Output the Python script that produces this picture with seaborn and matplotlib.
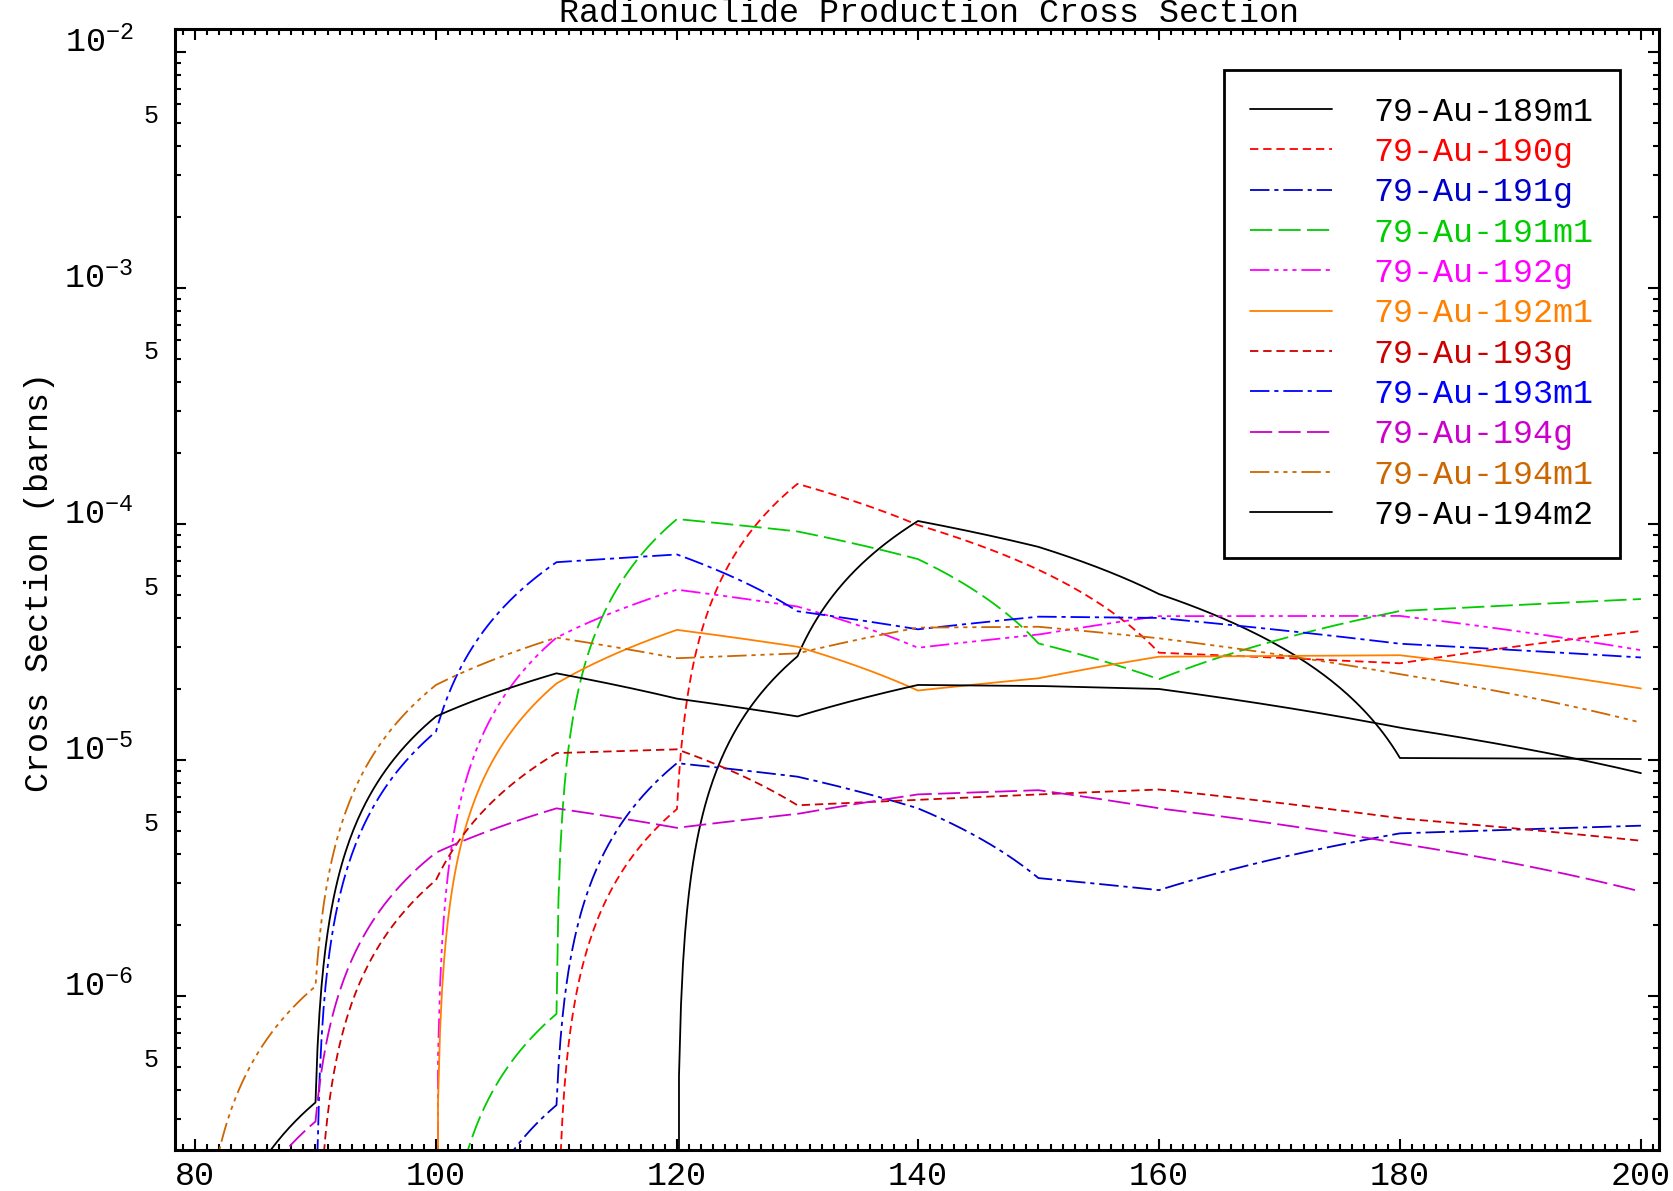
import numpy as np
import pandas as pd
import matplotlib
matplotlib.use("Agg")
import matplotlib.pyplot as plt
import matplotlib.ticker as mticker
import matplotlib.transforms as mtransforms
import seaborn as sns

# proton energy grid (MeV)
energy = [80, 90, 100, 110, 120, 130, 140, 150, 160, 180, 200]

# cross sections (barns); 0 = below the plot
au189m1 = [0, 0, 0, 0, 0, 2.75e-5, 1.03e-4, 8.0e-5, 5.05e-5, 1.02e-5, 1.01e-5]
au190g = [0, 0, 0, 0, 6.2e-6, 1.48e-4, 9.9e-5, 6.4e-5, 2.85e-5, 2.57e-5, 3.52e-5]
au191g = [0, 0, 0, 3.45e-7, 9.7e-6, 8.5e-6, 6.24e-6, 3.16e-6, 2.81e-6, 4.89e-6, 5.27e-6]
au191m1 = [0, 0, 0, 8.4e-7, 1.05e-4, 9.3e-5, 7.1e-5, 3.12e-5, 2.2e-5, 4.28e-5, 4.81e-5]
au192g = [0, 0, 0, 3.3e-5, 5.27e-5, 4.47e-5, 2.99e-5, 3.4e-5, 4.07e-5, 4.08e-5, 2.92e-5]
au192m1 = [0, 0, 0, 2.11e-5, 3.56e-5, 3.02e-5, 1.97e-5, 2.22e-5, 2.74e-5, 2.78e-5, 2.01e-5]
au193g = [0, 0, 3.1e-6, 1.07e-5, 1.11e-5, 6.43e-6, 6.78e-6, 7.15e-6, 7.5e-6, 5.66e-6, 4.55e-6]
au193m1 = [0, 0, 1.32e-5, 6.89e-5, 7.43e-5, 4.27e-5, 3.58e-5, 4.05e-5, 4.0e-5, 3.11e-5, 2.72e-5]
au194g = [0, 2.94e-7, 4.05e-6, 6.24e-6, 5.16e-6, 5.91e-6, 7.15e-6, 7.45e-6, 6.24e-6, 4.43e-6, 2.77e-6]
au194m1 = [0, 1.1e-6, 2.08e-5, 3.3e-5, 2.7e-5, 2.83e-5, 3.64e-5, 3.67e-5, 3.28e-5, 2.31e-5, 1.44e-5]
au194m2 = [0, 3.54e-7, 1.53e-5, 2.33e-5, 1.82e-5, 1.53e-5, 2.08e-5, 2.06e-5, 2.0e-5, 1.37e-5, 8.8e-6]

names = ["79-Au-189m1", "79-Au-190g", "79-Au-191g", "79-Au-191m1", "79-Au-192g",
         "79-Au-192m1", "79-Au-193g", "79-Au-193m1", "79-Au-194g", "79-Au-194m1",
         "79-Au-194m2"]
series = [au189m1, au190g, au191g, au191m1, au192g, au192m1,
          au193g, au193m1, au194g, au194m1, au194m2]
colors = ["#000000", "#FF0000", "#0000CC", "#00CC00", "#FF00FF", "#FF8000",
          "#CC0000", "#0000FF", "#CC00CC", "#CC6600", "#000000"]

# IDL-like line styles (solid, dashed, dash-dot, long dash, dash-dot-dot-dot)
solid = "-"
dashed = (0, (6, 3.5))
dashdot = (0, (14, 3.5, 3, 3.5))
longdash = (0, (16, 4.5))
dash3dot = (0, (14, 3.5, 3, 3.5, 3, 3.5, 3, 3.5))
styles = [solid, dashed, dashdot, longdash, dash3dot,
          solid, dashed, dashdot, longdash, dash3dot, solid]

df = pd.DataFrame({"energy": energy})
for n, s in zip(names, series):
    df[n] = s


class SegmentTransform(mtransforms.Transform):
    # keeps segments straight in data space (like the original plot) when
    # the log axis bends them
    input_dims = output_dims = 2
    has_inverse = False

    def transform_non_affine(self, values):
        return values

    def transform_path_non_affine(self, path):
        return path.interpolated(60)


sns.set_style("ticks")
plt.rcParams["font.family"] = ["Liberation Mono", "DejaVu Sans"]
plt.rcParams["lines.scale_dashes"] = False
plt.rcParams["mathtext.default"] = "regular"

W, H = 1673, 1191
fig = plt.figure(figsize=(W / 100, H / 100), dpi=100)
ax = fig.add_axes([175 / W, 1 - 1150 / H, (1659 - 175) / W, (1150 - 29) / H])

for n, c, ls in zip(names, colors, styles):
    sns.lineplot(data=df, x="energy", y=n, color=c, linestyle=ls, linewidth=1.3,
                 errorbar=None, legend=False, ax=ax)

ax.set_yscale("log")
ax.set_xlim(78.34, 201.5)
ax.set_ylim(2.226e-7, 1.252e-2)
ax.set_xlabel("")
ax.set_ylabel("")

# x ticks
ax.set_xticks(list(range(80, 201, 20)))
ax.xaxis.set_minor_locator(mticker.MultipleLocator(1))

# y ticks: 10^n majors, minor ticks 2..9 with only the 5 labelled
majors = [1e-6, 1e-5, 1e-4, 1e-3, 1e-2]
major_labels = [r"$\mathregular{10^{%d}}$" % round(np.log10(v)) for v in majors]
minors, minor_labels = [], []
for d in range(-7, -1):
    for m in range(2, 10):
        v = m * 10.0 ** d
        if 2.226e-7 < v < 1.252e-2:
            minors.append(v)
            minor_labels.append("5" if m == 5 else "")
ax.set_yticks(majors, labels=major_labels)
ax.set_yticks(minors, labels=minor_labels, minor=True)

for sp in ax.spines.values():
    sp.set_visible(True)
    sp.set_color("black")
    sp.set_linewidth(2.2)

ax.tick_params(which="both", direction="in", top=True, right=True,
               color="black", width=1.5, labelcolor="black")
ax.tick_params(which="major", length=8)
ax.tick_params(which="minor", length=4)
ax.tick_params(axis="x", which="major", labelsize=24, pad=8)
ax.tick_params(axis="y", which="major", labelsize=24, pad=30)
ax.tick_params(axis="y", which="minor", labelsize=18, pad=12)
for lab in ax.get_yticklabels() + ax.get_yticklabels(minor=True):
    lab.set_va("baseline")

fig.text(929 / W, 1 - 22 / H, "Radionuclide Production Cross Section",
         ha="center", va="baseline", fontsize=24, color="black")
fig.text(40 / W, 1 - 582 / H, "Cross Section (barns)", rotation=90,
         ha="center", va="center", fontsize=24, color="black")

leg = ax.legend(handles=list(ax.get_lines()), labels=names, loc="upper right",
                bbox_to_anchor=(1620 / W, 1 - 70 / H), bbox_transform=fig.transFigure,
                fontsize=24, handlelength=2.46, handletextpad=1.23, borderpad=0.8,
                labelspacing=0.28, frameon=True, fancybox=False, shadow=False,
                framealpha=1, edgecolor="black", labelcolor="linecolor",
                borderaxespad=0)
leg.get_frame().set_linewidth(2)

for line in ax.get_lines():
    line.set_transform(SegmentTransform() + ax.transData)

fig.savefig("out.png", dpi=100)
